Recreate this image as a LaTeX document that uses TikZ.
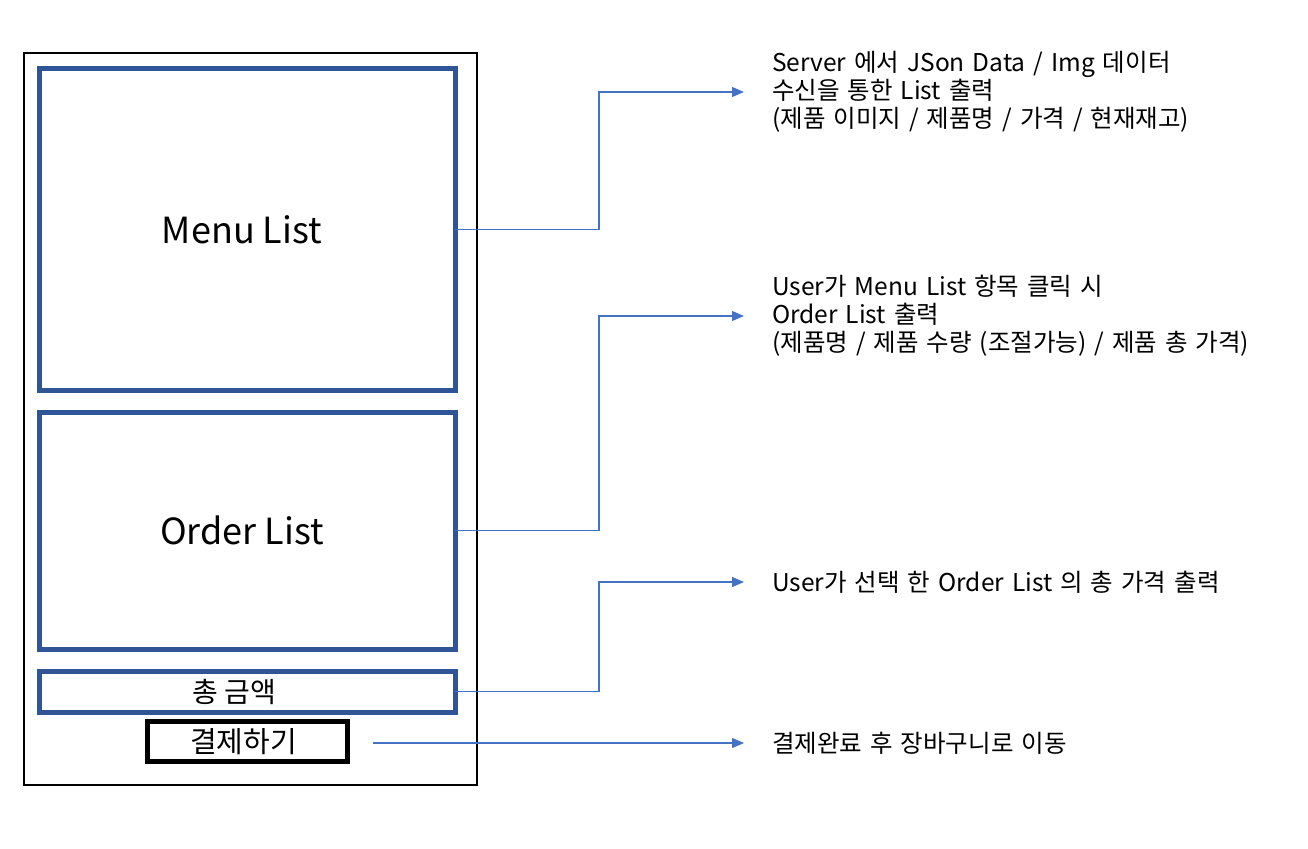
\documentclass[tikz,border=0pt]{standalone}
\usepackage{fontspec}
\setmainfont{Noto Sans CJK KR}
\usetikzlibrary{positioning}
\usetikzlibrary{arrows.meta}

\definecolor{boxblue}{HTML}{2F5597}
\definecolor{linkblue}{HTML}{4472C4}

\newcommand\notefont{\fontsize{24.5}{28}\selectfont\spaceskip=8pt plus 1pt\relax}

\tikzset{
   panel/.style={draw=boxblue, line width=5pt, outer sep=0pt, inner sep=0pt,
                 minimum width=416pt},
   paybox/.style={draw=black, line width=5pt, outer sep=0pt, inner sep=0pt,
                  minimum width=200pt, minimum height=40pt},
   note/.style={anchor=west, align=left, inner sep=0pt, font=\notefont},
   link/.style={draw=linkblue, line width=1.2pt, shorten >=28pt,
                -{Triangle[length=12pt,width=10pt]}}
}

\begin{document}
\begin{tikzpicture}[x=1pt, y=-1pt]
   \useasboundingbox (0,0) rectangle (1308,848);

   % phone frame
   \node[draw=black, line width=2pt, minimum width=453pt, minimum height=731.5pt,
         inner sep=0pt, outer sep=0pt] (frame) at (250.5,419.25) {};

   % screen parts
   \node[panel, minimum height=321pt, font=\fontsize{36}{42}\selectfont]
        (menu) at (247,229.5) {Menu List\hspace*{10pt}};
   \node[panel, minimum height=237pt, font=\fontsize{36}{42}\selectfont,
         below=22pt of menu] (order) {Order List\hspace*{10pt}};
   \node[panel, minimum height=40.5pt, font=\fontsize{28}{32}\selectfont,
         below=22.5pt of order] (total) {총 금액\hspace*{25pt}};
   \node[paybox, font=\fontsize{29}{32}\selectfont,
         below=9.5pt of total] (pay) {결제하기\hspace*{7pt}};

   % notes
   \node[note] (tmenu) at (772,92)
        {Server 에서 JSon Data / Img 데이터\\수신을 통한 List 출력\\(제품 이미지 / 제품명 / 가격 / 현재재고)};
   \node[note] (torder) at (772,316)
        {User가 Menu List 항목 클릭 시\\Order List 출력\\(제품명 / 제품 수량 (조절가능) / 제품 총 가격)};
   \node[note] (ttotal) at (772,582) {User가 선택 한 Order List 의 총 가격 출력};
   \node[note] (tpay) at (772,743) {결제완료 후 장바구니로 이동};

   \coordinate (payout) at (373,743);

   % connectors
   \draw[link] (menu.east) -- ++(144,0) |- (tmenu.west);
   \draw[link] (order.east) -- ++(144,0) |- (torder.west);
   \draw[link] (total.east) -- ++(144,0) |- (ttotal.west);
   \draw[link] (payout) -- (tpay.west);
\end{tikzpicture}
\end{document}
